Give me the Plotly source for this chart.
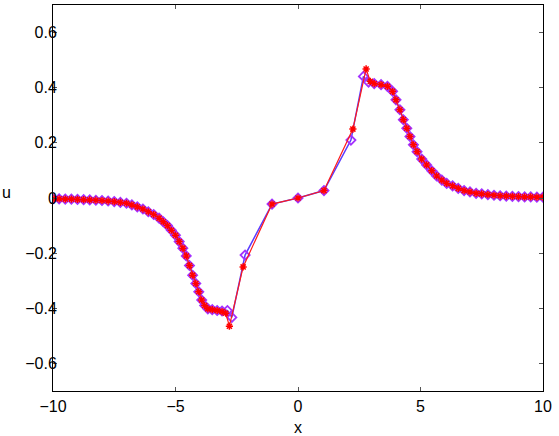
import plotly.graph_objects as go

# reference solution (red stars)
x_ref = [-10, -9.75, -9.5, -9.25, -9, -8.75, -8.5, -8.25, -8, -7.75, -7.5, -7.25,
         -7.0, -6.78, -6.56, -6.33, -6.11, -5.89, -5.67, -5.5, -5.33, -5.17, -5.0,
         -4.85, -4.7, -4.56, -4.43, -4.3, -4.17, -4.05, -3.93, -3.81, -3.68, -3.5,
         -3.3, -3.1, -2.95, -2.8,
         -2.24, -1.06, 0, 1.06, 2.24,
         2.78, 2.95, 3.11, 3.39, 3.65, 3.86, 4.0, 4.16, 4.3, 4.44, 4.57, 4.71,
         4.86, 5.05, 5.25, 5.46, 5.66, 5.87, 6.07, 6.31, 6.54, 6.78, 7.02, 7.27,
         7.5, 7.75, 8.0, 8.25, 8.5, 8.75, 9.0, 9.25, 9.5, 9.75, 10]
u_ref = [-0.003, -0.003, -0.004, -0.004, -0.005, -0.006, -0.007, -0.008, -0.009,
         -0.011, -0.013, -0.016, -0.019, -0.025, -0.032, -0.04, -0.05, -0.06,
         -0.073, -0.086, -0.1, -0.117, -0.135, -0.158, -0.182, -0.21, -0.245,
         -0.28, -0.31, -0.34, -0.37, -0.39, -0.402, -0.405, -0.408, -0.412,
         -0.418, -0.465,
         -0.25, -0.022, 0.0, 0.027, 0.25,
         0.468, 0.423, 0.415, 0.411, 0.405, 0.387, 0.356, 0.32, 0.284, 0.253,
         0.223, 0.193, 0.168, 0.141, 0.12, 0.099, 0.08, 0.065, 0.053, 0.044,
         0.035, 0.027, 0.022, 0.017, 0.015, 0.012, 0.01, 0.008, 0.007, 0.006,
         0.005, 0.004, 0.004, 0.003, 0.003]

# computed solution (purple diamonds)
x_num = [-10, -9.75, -9.5, -9.25, -9, -8.75, -8.5, -8.25, -8, -7.75, -7.5, -7.25,
         -7.0, -6.78, -6.56, -6.33, -6.11, -5.89, -5.67, -5.5, -5.33, -5.17, -5.0,
         -4.85, -4.7, -4.56, -4.43, -4.3, -4.17, -4.05, -3.93, -3.81, -3.68, -3.5,
         -3.3, -3.1, -2.88, -2.7,
         -2.16, -1.06, 0, 1.06, 2.16,
         2.67, 2.88, 3.11, 3.39, 3.65, 3.86, 4.0, 4.16, 4.3, 4.44, 4.57, 4.71,
         4.86, 5.05, 5.25, 5.46, 5.66, 5.87, 6.07, 6.31, 6.54, 6.78, 7.02, 7.27,
         7.5, 7.75, 8.0, 8.25, 8.5, 8.75, 9.0, 9.25, 9.5, 9.75, 10]
u_num = [-0.003, -0.003, -0.004, -0.004, -0.005, -0.006, -0.007, -0.008, -0.009,
         -0.011, -0.013, -0.016, -0.019, -0.025, -0.032, -0.04, -0.05, -0.06,
         -0.073, -0.086, -0.1, -0.117, -0.135, -0.158, -0.182, -0.21, -0.245,
         -0.28, -0.31, -0.34, -0.37, -0.39, -0.402, -0.405, -0.408, -0.41,
         -0.408, -0.433,
         -0.207, -0.022, 0.0, 0.027, 0.21,
         0.441, 0.42, 0.415, 0.411, 0.405, 0.387, 0.356, 0.32, 0.284, 0.253,
         0.223, 0.193, 0.168, 0.141, 0.12, 0.099, 0.08, 0.065, 0.053, 0.044,
         0.035, 0.027, 0.022, 0.017, 0.015, 0.012, 0.01, 0.008, 0.007, 0.006,
         0.005, 0.004, 0.004, 0.003, 0.003]

x_ticks = [-10, -5, 0, 5, 10]
u_ticks = [-0.6, -0.4, -0.2, 0, 0.2, 0.4, 0.6]
u_ticktext = ['\u22120.6', '\u22120.4', '\u22120.2', '0', '0.2', '0.4', '0.6']

font = dict(family='Liberation Sans, Arial, sans-serif', size=16, color='black')

fig = go.Figure()
fig.add_trace(go.Scatter(
    x=x_num, y=u_num, mode='lines+markers',
    line=dict(color='#5a3cff', width=1.5),
    marker=dict(symbol='diamond-open', size=7, color='#a432ff', line=dict(width=1.8)),
))
fig.add_trace(go.Scatter(
    x=x_ref, y=u_ref, mode='lines+markers',
    line=dict(color='#ff1a1a', width=1.2),
    marker=dict(symbol='asterisk-open', size=6, color='#ff0000', line=dict(width=1.5)),
))

axis = dict(showgrid=False, zeroline=False, showline=True, linecolor='black',
            linewidth=1, mirror='ticks', ticks='inside', ticklen=4,
            tickcolor='#555555', tickfont=font, automargin=False)

fig.update_xaxes(range=[-10, 10], tickvals=x_ticks, ticklabelstandoff=1, **axis)
fig.update_yaxes(range=[-0.7, 0.7], tickvals=u_ticks, ticktext=u_ticktext,
                 ticklabelstandoff=-8, **axis)

fig.update_layout(
    width=559, height=436,
    margin=dict(l=53, r=16, t=5, b=45, autoexpand=False),
    plot_bgcolor='white', paper_bgcolor='white',
    showlegend=False,
    font=font,
    annotations=[
        dict(text='x', x=0.5, y=-0.0935, xref='paper', yref='paper',
             xanchor='center', yanchor='middle', showarrow=False, font=font),
        dict(text='u', x=-0.094, y=0.5155, xref='paper', yref='paper',
             xanchor='center', yanchor='middle', showarrow=False, font=font),
    ],
)

# the page body has an 8px default margin; drop it so the figure sits at 0,0
fig.write_html("out.html", config={'displayModeBar': False},
               post_script="document.body.style.margin = '0';")
